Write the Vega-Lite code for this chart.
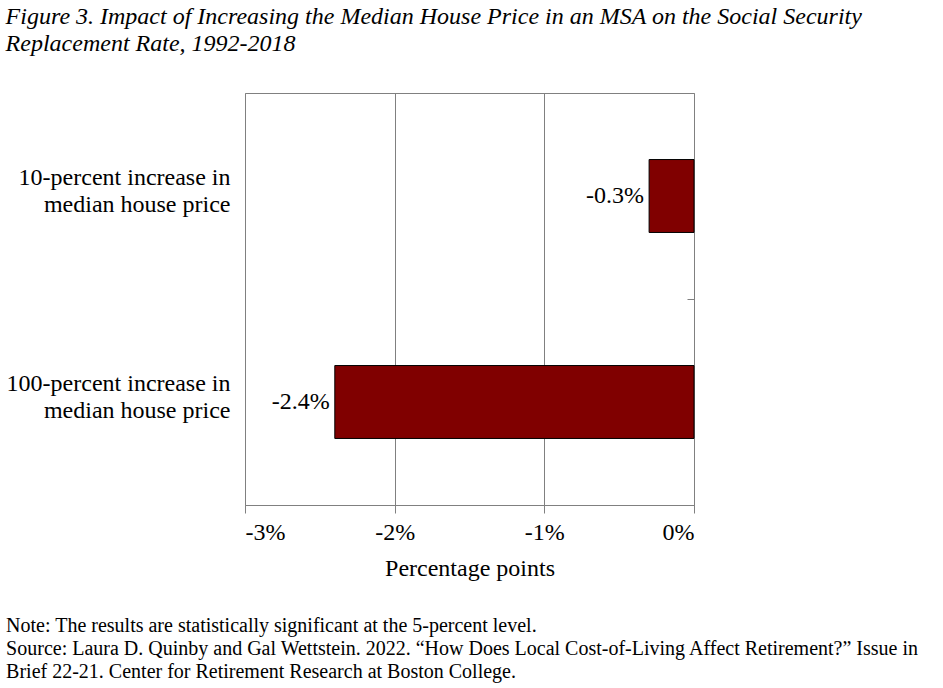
{
  "$schema": "https://vega.github.io/schema/vega-lite/v6.json",
  "background": "white",
  "padding": {"left": 5, "top": 4, "right": 10, "bottom": 5},
  "title": {
    "text": ["Figure 3. Impact of Increasing the Median House Price in an MSA on the Social Security", "Replacement Rate, 1992-2018"],
    "anchor": "start",
    "frame": "bounds",
    "font": "Liberation Serif",
    "fontSize": 24,
    "fontStyle": "italic",
    "fontWeight": "normal",
    "lineHeight": 27,
    "color": "black",
    "offset": 37
  },
  "data": {
    "values": [
      {"category": "10-percent increase in median house price", "value": -0.003},
      {"category": "100-percent increase in median house price", "value": -0.024}
    ]
  },
  "vconcat": [
    {
      "width": 449,
      "height": 412,
      "title": {
        "text": ["Note: The results are statistically significant at the 5-percent level.", "Source: Laura D. Quinby and Gal Wettstein. 2022. \u201cHow Does Local Cost-of-Living Affect Retirement?\u201d Issue in", "Brief 22-21. Center for Retirement Research at Boston College."],
        "orient": "bottom",
        "anchor": "start",
        "frame": "bounds",
        "font": "Liberation Serif",
        "fontSize": 20,
        "fontWeight": "normal",
        "lineHeight": 23,
        "color": "black",
        "offset": 36
      },
      "encoding": {
        "y": {
          "field": "category",
          "type": "nominal",
          "sort": null,
          "scale": {"paddingInner": 0.646, "paddingOuter": 0.323}
        },
        "x": {
          "field": "value",
          "type": "quantitative",
          "scale": {"domain": [-0.03, 0], "nice": false},
          "axis": {
            "values": [-0.03, -0.02, -0.01, 0],
            "format": ".0%",
            "title": "Percentage points",
            "grid": true,
            "gridColor": "#808080",
            "gridOpacity": 1,
            "domainColor": "#808080",
            "tickColor": "#808080",
            "tickSize": 8,
            "labelFont": "Liberation Serif",
            "labelFontSize": 24,
            "labelColor": "black",
            "labelPadding": 7,
            "titleFont": "Liberation Serif",
            "titleFontSize": 24,
            "titleFontWeight": "normal",
            "titleColor": "black",
            "titlePadding": 12
          }
        }
      },
      "layer": [
        {
          "mark": {"type": "bar", "color": "#800000", "stroke": "black", "strokeWidth": 1},
          "encoding": {
            "y": {
              "field": "category",
              "type": "nominal",
              "sort": null,
              "axis": {
                "orient": "left",
                "title": null,
                "ticks": false,
                "domain": false,
                "grid": false,
                "labelFont": "Liberation Serif",
                "labelFontSize": 24,
                "labelColor": "black",
                "labelLineHeight": 27,
                "labelAlign": "right",
                "labelBaseline": "middle",
                "labelPadding": 15,
                "labelOffset": -18,
                "labelLimit": 400,
                "labelExpr": "[slice(datum.label, 0, indexof(datum.label, ' median')), slice(datum.label, indexof(datum.label, ' median') + 1)]"
              }
            }
          }
        },
        {
          "mark": {"type": "text", "align": "right", "baseline": "middle", "dx": -5, "font": "Liberation Serif", "fontSize": 24, "color": "black"},
          "encoding": {
            "y": {
              "field": "category",
              "type": "nominal",
              "sort": null,
              "axis": {
                "orient": "right",
                "title": null,
                "labels": false,
                "domain": false,
                "grid": false,
                "ticks": true,
                "tickSize": -7,
                "tickColor": "#808080",
                "bandPosition": 1.918
              }
            },
            "text": {"field": "value", "type": "quantitative", "format": ".1%"}
          }
        }
      ],
      "resolve": {"axis": {"y": "independent"}}
    }
  ],
  "config": {
    "locale": {"number": {"decimal": ".", "thousands": ",", "grouping": [3], "currency": ["$", ""], "minus": "-"}},
    "view": {"stroke": "#808080", "strokeWidth": 1},
    "font": "Liberation Serif"
  }
}
